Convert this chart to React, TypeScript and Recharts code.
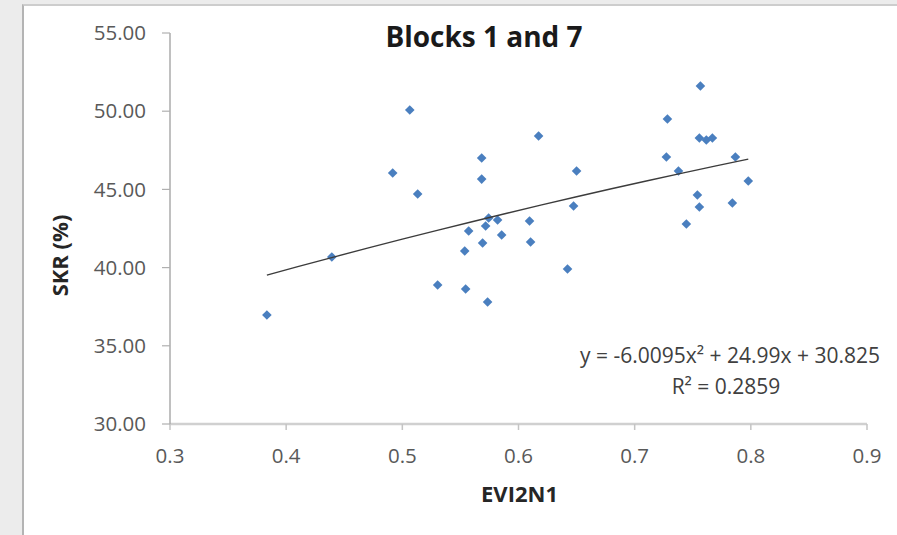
import React from 'react';
import { ScatterChart, Scatter, XAxis, YAxis } from 'recharts';

// EVI2N1 (x) values of the observations
const evi2n1: number[] = [
  0.3834, 0.4393, 0.4917, 0.5064, 0.5132, 0.5304, 0.5537, 0.5545, 0.5571,
  0.5683, 0.5683, 0.5691, 0.5717, 0.5743, 0.5734, 0.582, 0.5855, 0.6095,
  0.6104, 0.6173, 0.6422, 0.6474, 0.65, 0.7273, 0.7282, 0.7377, 0.7445,
  0.754, 0.7557, 0.7566, 0.7557, 0.7617, 0.7669, 0.7841, 0.7867, 0.7978,
];
// SKR (%) values of the observations
const skr: number[] = [
  36.97, 40.68, 46.05, 50.08, 44.71, 38.89, 41.06, 38.63, 42.34,
  47.01, 45.66, 41.57, 42.66, 43.17, 37.8, 43.04, 42.08, 42.98,
  41.64, 48.41, 39.91, 43.94, 46.18, 47.07, 49.5, 46.18, 42.79,
  44.64, 43.87, 51.61, 48.29, 48.16, 48.29, 44.13, 47.07, 45.54,
];

// Polynomial trendline shown on the chart: y = -6.0095x² + 24.99x + 30.825
const trendA = -6.0095;
const trendB = 24.99;
const trendC = 30.825;
const trendXs: number[] = [
  0.3834, 0.41, 0.44, 0.47, 0.5, 0.53, 0.56, 0.59, 0.62, 0.65, 0.68,
  0.71, 0.74, 0.77, 0.7978,
];

const xTicks: number[] = [0.3, 0.4, 0.5, 0.6, 0.7, 0.8, 0.9];
const yTicks: number[] = [30, 35, 40, 45, 50, 55];

const chartTitle = 'Blocks 1 and 7';
const xTitle = 'EVI2N1';
const yTitle = 'SKR (%)';
const eqLine1 = 'y = -6.0095x² + 24.99x + 30.825';
const eqLine2 = 'R² = 0.2859';

const points = evi2n1.map((x, i) => ({ x, y: skr[i] }));
const trend = trendXs.map((x) => ({ x, y: trendA * x * x + trendB * x + trendC }));

const FONT = '"Open Sans", "Liberation Sans", sans-serif';

const Diamond = (p: any) => {
  const { cx, cy } = p;
  if (cx == null || cy == null) return <g />;
  const r = 4.8;
  return (
    <path
      d={`M${cx},${cy - r}L${cx + r},${cy}L${cx},${cy + r}L${cx - r},${cy}Z`}
      fill="#4a7fbf"
    />
  );
};

const NoShape = () => <g />;

const YTitle = (props: any) => {
  const vb = props.viewBox || { x: 110, y: 33, width: 60, height: 391 };
  const cx = vb.x - 42;
  const cy = vb.y + vb.height / 2 + 27;
  return (
    <text
      x={cx}
      y={cy}
      transform={`rotate(-90, ${cx}, ${cy})`}
      textAnchor="middle"
      fontFamily={FONT}
      fontWeight="bold"
      fontSize={22}
      fill="#262626"
    >
      {yTitle}
    </text>
  );
};

const XTitle = (props: any) => {
  const vb = props.viewBox || { x: 170, y: 424, width: 697, height: 30 };
  const cx = vb.x + vb.width / 2 + 1;
  const cy = 502;
  return (
    <text x={cx} y={cy} textAnchor="middle" fontFamily={FONT} fontWeight="bold" fontSize={22} fill="#262626">
      {xTitle}
    </text>
  );
};

export default function App() {
  return (
    <div
      style={{
        position: 'absolute',
        left: 0,
        top: 0,
        width: 897,
        height: 535,
        background: '#ececec',
        overflow: 'hidden',
      }}
    >
      <div
        style={{
          position: 'absolute',
          left: 22,
          top: 4,
          right: 0,
          bottom: 0,
          background: '#ffffff',
          borderLeft: '2px solid #b4b4b4',
          borderTop: '2px solid #cdcdcd',
        }}
      />
      <div style={{ position: 'absolute', left: 0, top: 0 }}>
        <ScatterChart
          width={897}
          height={535}
          margin={{ top: 33, right: 30, bottom: 81, left: 110 }}
        >
          <XAxis
            type="number"
            dataKey="x"
            domain={[0.3, 0.9]}
            ticks={xTicks}
            tickFormatter={(v: number) => v.toFixed(1)}
            height={30}
            tickSize={6}
            tickMargin={18}
            axisLine={{ stroke: '#d0d0d0', strokeWidth: 2.5 }}
            tickLine={{ stroke: '#c4c4c4', strokeWidth: 1.5 }}
            tick={{ fill: '#595959', fontSize: 20.5, fontFamily: FONT }}
            allowDataOverflow
            label={<XTitle />}
          />
          <YAxis
            type="number"
            dataKey="y"
            domain={[30, 55]}
            ticks={yTicks}
            tickFormatter={(v: number) => v.toFixed(2)}
            width={60}
            tickSize={8}
            tickMargin={16}
            axisLine={{ stroke: '#ababab', strokeWidth: 1.5 }}
            tickLine={{ stroke: '#b0b0b0', strokeWidth: 1.2 }}
            tick={{ fill: '#595959', fontSize: 20.5, fontFamily: FONT }}
            allowDataOverflow
            label={<YTitle />}
          />
          <Scatter
            data={points}
            shape={<Diamond />}
            isAnimationActive={false}
          />
          <Scatter
            data={trend}
            shape={<NoShape />}
            line={{ stroke: '#3c3c3c', strokeWidth: 1.4 }}
            lineType="joint"
            isAnimationActive={false}
          />
        </ScatterChart>
      </div>
      <svg
        width={897}
        height={535}
        style={{ position: 'absolute', left: 0, top: 0, pointerEvents: 'none' }}
      >
        <text x={484} y={47} textAnchor="middle" fontFamily={FONT} fontWeight="bold" fontSize={28} fill="#1a1a1a">
          {chartTitle}
        </text>
        <text x={730} y={363} textAnchor="middle" fontFamily={FONT} fontSize={21} fill="#404040">
          {eqLine1}
        </text>
        <text x={726} y={394} textAnchor="middle" fontFamily={FONT} fontSize={21} fill="#404040">
          {eqLine2}
        </text>
      </svg>
    </div>
  );
}
